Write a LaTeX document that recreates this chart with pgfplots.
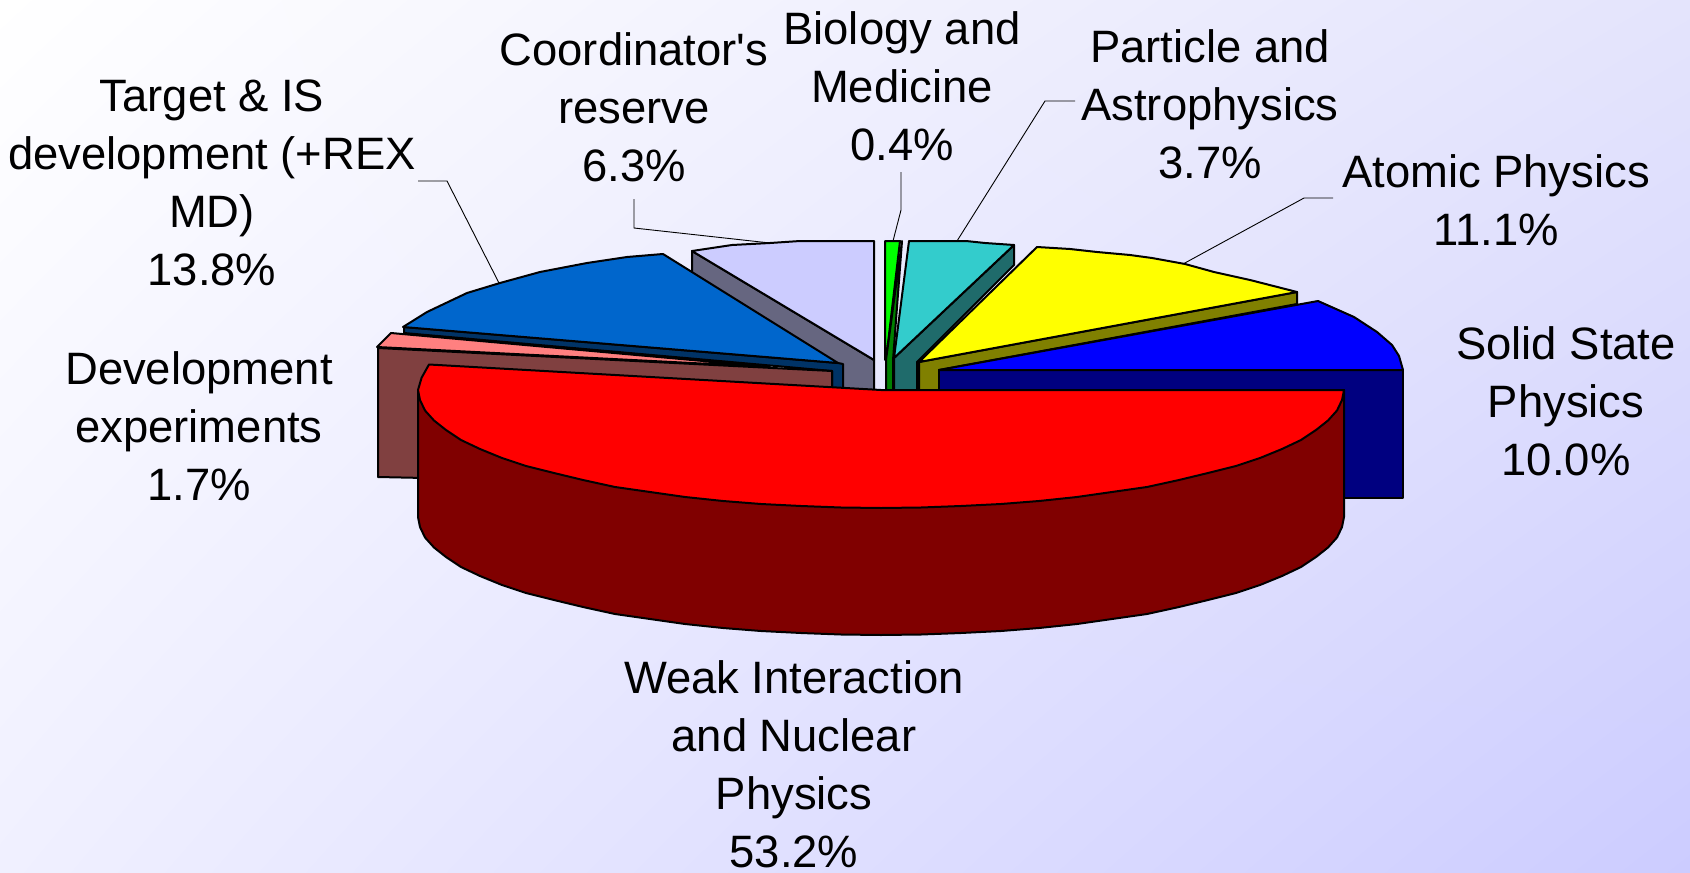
\documentclass[border=0pt]{standalone}
\usepackage{pgfplots}
\pgfplotsset{compat=1.18}
\usepackage{fontspec}
\newfontfamily\labfont{Liberation Sans}
\usetikzlibrary{shadings}
\definecolor{cLav}{HTML}{CCCCFF}\definecolor{cLavS}{HTML}{666680}
\definecolor{cTar}{HTML}{0066CC}\definecolor{cTarS}{HTML}{003366}
\definecolor{cDev}{HTML}{FF8080}\definecolor{cDevS}{HTML}{804040}
\definecolor{cBio}{HTML}{00FF00}\definecolor{cBioS}{HTML}{008000}
\definecolor{cPar}{HTML}{33CCCC}\definecolor{cParS}{HTML}{1F6B6B}
\definecolor{cAto}{HTML}{FFFF00}\definecolor{cAtoS}{HTML}{808000}
\definecolor{cSol}{HTML}{0000FF}\definecolor{cSolS}{HTML}{000080}
\definecolor{cWea}{HTML}{FF0000}\definecolor{cWeaS}{HTML}{800000}
\definecolor{bgUR}{HTML}{E4E4FC}\definecolor{bgLL}{HTML}{F0F0FF}\definecolor{bgLR}{HTML}{CCCCFF}
\pgfplotsset{slice/.style={draw=black,line width=1pt,line join=round,fill=#1,mark=none,sharp plot},
 lead/.style={draw=black,line width=0.45pt,mark=none,sharp plot}}
\tikzset{lab/.style={align=center,font=\labfont\fontsize{22.7}{29}\selectfont,text=black,inner sep=0pt}}
\begin{document}
\begin{tikzpicture}
\path[use as bounding box] (0,0) rectangle (845pt,436pt);
\shade[upper left=white,upper right=bgUR,lower left=bgLL,lower right=bgLR] (0,0) rectangle (845pt,436pt);
\begin{axis}[at={(0pt,0pt)},anchor=south west,width=845pt,height=436pt,scale only axis,
  xmin=0,xmax=1690,ymin=0,ymax=872,y dir=reverse,axis lines=none,clip=false]
% leaders
\addplot[lead] coordinates {(418,181)(447,181)(499,283)};
\addplot[lead] coordinates {(634,199)(634,228)(770,243)};
\addplot[lead] coordinates {(901,172)(901,210)(893,241)};
\addplot[lead] coordinates {(1075,101)(1045,101)(957,241)};
\addplot[lead] coordinates {(1333,198)(1304,198)(1183,264)};
% Coordinator's reserve
\addplot[slice=cLavS] coordinates {(692,251)(692,300)(843,390)(874,390)(874,360)} -- cycle;
\addplot[slice=cLav] coordinates {(692,251)(732,245)(770,243)(800,241)(874,241)(874,360)} -- cycle;
% Target
\addplot[slice=cTarS] coordinates {(404,327)(404,333)(832,371)(832,388)(843,388)(843,364)(838,363)} -- cycle;
\addplot[slice=cTar] coordinates {(403,327)(427,312)(467,293)(500,283)(540,272)(587,263)(627,257)(663,254)(838,363)} -- cycle;
% Development experiments
\addplot[slice=cDevS] coordinates {(378,348)(378,477)(425,478)(425,400)(832,400)(832,371)} -- cycle;
\addplot[slice=cDev] coordinates {(391,333)(377,347)(770,367)} -- cycle;
% Biology and Medicine
\addplot[slice=cBio] coordinates {(885,241)(900,241)(886,360)(885,360)} -- cycle;
\addplot[slice=cBioS] coordinates {(902,241)(886,360)(886,390)(893,390)(893,360)} -- cycle;
% Particle and Astrophysics
\addplot[slice=cParS] coordinates {(894,358)(894,390)(917,390)(917,362)(1014,265)(1014,245)} -- cycle;
\addplot[slice=cPar] coordinates {(909,241)(966,241)(985,243)(1014,245)(894,358)} -- cycle;
% Atomic Physics
\addplot[slice=cAtoS] coordinates {(919,362)(919,390)(939,390)(939,370)(1297,304)(1297,292)} -- cycle;
\addplot[slice=cAto] coordinates {(919,362)(1037,247)(1070,249)(1097,252)(1130,255)(1152,258)(1185,264)(1214,272)(1250,280)(1297,292)} -- cycle;
% Solid State Physics
\addplot[slice=cSolS] coordinates {(939,370)(939,498)(1403,498)(1403,370)} -- cycle;
\addplot[slice=cSol] coordinates {(939,370)(1318,301)(1354,317)(1377,332)(1392,345)(1399,356)(1403,370)} -- cycle;
% Weak Interaction and Nuclear Physics
\addplot[slice=cWeaS] coordinates {(881,390)(1344,390)(1344,517)(1342,527)(1337,537.5)(1328,547.5)(1316,557)(1301,567)(1282,576)(1260,585)(1236,593)(1208,600)(1179,607)(1147,614)(1112,619)(1077,624)(1039,628)(1001,631)(961,633)(921,634.5)(881,635)(841,634.5)(801,633)(761,631)(723,628)(685,624)(650,619)(615,614)(583,607)(554,600)(526,593)(502,585)(480,576)(461,567)(446,557)(434,547.5)(425,537.5)(420,527)(418,517)(418,390)} -- cycle;
\addplot[slice=cWea] coordinates {(881,390)(1344,390)(1342,400)(1337,410.5)(1328,420.5)(1316,430)(1301,440)(1282,449)(1260,458)(1236,466)(1208,473)(1179,480)(1147,487)(1112,492)(1077,497)(1039,501)(1001,504)(961,506)(921,507.5)(881,508)(841,507.5)(801,506)(761,504)(723,501)(685,497)(650,492)(615,487)(583,480)(554,473)(526,466)(502,458)(480,449)(461,440)(446,430)(434,420.5)(425,410.5)(420,400)(418,390)(421.6,377.7)(429,364.5)} -- cycle;
% labels
\node[lab] at (axis cs:212,183) {Target \& IS\\development (+REX\\MD)\\13.8\%};
\node[lab] at (axis cs:634,107) {Coordinator's\\reserve\\6.3\%};
\node[lab] at (axis cs:902,86) {Biology and\\Medicine\\0.4\%};
\node[lab] at (axis cs:1210,104) {Particle and\\Astrophysics\\3.7\%};
\node[lab] at (axis cs:1496,200) {Atomic Physics\\11.1\%};
\node[lab] at (axis cs:1566,401) {Solid State\\Physics\\10.0\%};
\node[lab] at (axis cs:199,426) {Development\\experiments\\1.7\%};
\node[lab] at (axis cs:794,764) {Weak Interaction\\and Nuclear\\Physics\\53.2\%};
\end{axis}
\end{tikzpicture}
\end{document}
